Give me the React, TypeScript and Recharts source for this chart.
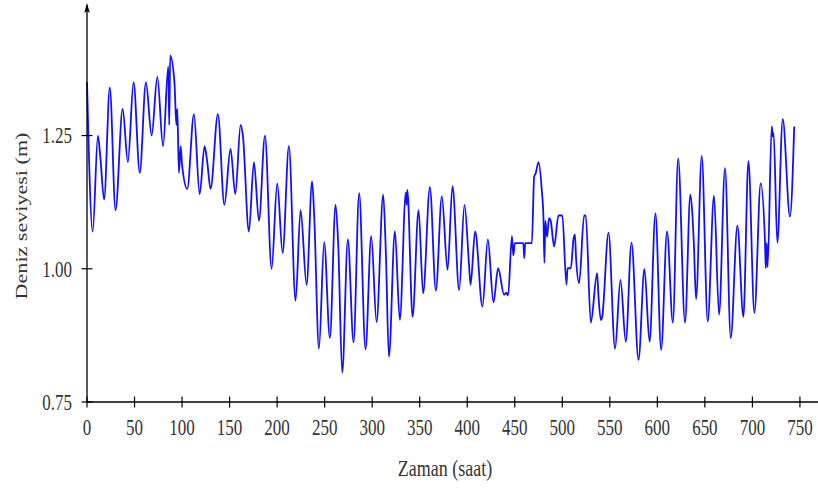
import React from "react";
import { LineChart, Line, XAxis, YAxis } from "recharts";

// turning points of the hourly sea-level record
const HOURS = [
  0, 6, 11.5, 14, 18, 24, 30, 37.5, 43, 49, 55.5, 62, 68, 74, 80, 85.5, 86.5, 87.5,
  92, 94, 95, 96.7, 98.5, 100, 105.5, 112.5, 118.5, 123.7, 126.5, 130, 137.7, 144.5,
  151, 156, 161.6, 164, 170.3, 175.6, 180.9, 187.2, 194.2, 200.1, 205.8, 212.4, 219.4,
  224.7, 231, 236.8, 239, 244, 249.5, 255.5, 261.5, 264.3, 268.5, 274.4, 280.4, 286.3,
  293, 299, 304.6, 311.6, 314.4, 317.6, 323.9, 329.1, 335.4, 336.2, 337, 342.5, 348.8,
  353.6, 360.7, 367, 373.3, 379.3, 384.5, 391.5, 397.1, 401.8, 403.5, 408.3, 416, 421.7,
  427.6, 432.5, 438.8, 441, 443, 447, 448.5, 450, 459, 460, 461, 468, 470.4, 472, 475,
  478.4, 480.2, 481.2, 482.2, 484, 486, 487.9, 491.4, 496, 500, 504.4, 505.5, 509, 511.8,
  513.3, 514.5, 517.7, 523, 524.7, 530, 536.6, 538, 540.5, 542, 548.6, 555.5, 561.2,
  566.8, 572.8, 580.2, 586.4, 591.8, 598, 604, 610.2, 616.3, 621.9, 629.1, 634.7, 637,
  638.4, 640.7, 646.7, 653, 659.6, 664.9, 671.2, 677.2, 684.2, 690.5, 695.8, 702.1, 708.7,
  713.3, 714, 715, 716, 720.3, 721.5, 722.3, 726.2, 731.9, 739.5, 744,
];

const LEVELS = [
  1.35, 1.07, 1.25, 1.21, 1.13, 1.34, 1.11, 1.3, 1.2, 1.35, 1.18, 1.35, 1.25, 1.36, 1.23, 1.38, 1.27, 1.4,
  1.35, 1.27, 1.3, 1.18, 1.23, 1.195, 1.15, 1.29, 1.14, 1.23, 1.2, 1.15, 1.29, 1.12,
  1.225, 1.14, 1.27, 1.25, 1.07, 1.2, 1.09, 1.25, 1.0, 1.16, 1.03, 1.23, 0.94,
  1.11, 0.97, 1.164, 1.1, 0.85, 1.05, 0.87, 1.12, 1.045, 0.805, 1.055, 0.862, 1.142,
  0.849, 1.061, 0.9, 1.139, 1.03, 0.835, 1.07, 0.904, 1.143, 1.12, 1.148, 0.91, 1.11,
  0.954, 1.153, 0.959, 1.136, 0.998, 1.155, 0.96, 1.12, 1.01, 0.97, 1.07, 0.929, 1.055,
  0.937, 1.001, 0.951, 0.955, 0.95, 1.061, 1.025, 1.048, 1.048, 1.02, 1.048, 1.048, 1.173, 1.179, 1.2,
  1.148, 1.095, 1.011, 1.09, 1.06, 1.095, 1.089, 1.042, 1.1, 1.1, 0.97, 1.001, 1.001, 1.056,
  1.064, 1.02, 0.973, 1.1, 1.1, 0.899, 0.992, 0.951, 0.904, 0.91, 1.068, 0.85, 0.979,
  0.863, 1.049, 0.829, 1.0, 0.863, 1.104, 0.848, 1.07, 0.899, 1.207, 0.899, 1.139, 1.098,
  1.048, 0.943, 1.212, 0.901, 1.137, 0.914, 1.189, 0.87, 1.081, 0.91, 1.202, 0.917, 1.16,
  1.048, 1.001, 1.048, 1.003, 1.267, 1.248, 1.255, 1.049, 1.281, 1.098, 1.267,
];

const X_TICKS = [0, 50, 100, 150, 200, 250, 300, 350, 400, 450, 500, 550, 600, 650, 700, 750];
const Y_TICKS = [0.75, 1.0, 1.25];

const data = HOURS.map((h, i) => ({ saat: h, seviye: LEVELS[i] }));

const FONT = "Liberation Serif, DejaVu Serif, serif";
const STRETCH = 1.3;
const textStyle = { fontFamily: FONT, fill: "#333" };

function XTick(props: any) {
  const { x, y, payload } = props;
  return (
    <g>
      <line x1={x} x2={x} y1={y - 5.5} y2={y + 5.5} stroke="#000" strokeWidth={1.2} />
      <text
        transform={`translate(${x},${y + 25}) scale(1,${STRETCH})`}
        textAnchor="middle"
        dominantBaseline="central"
        fontSize={17}
        style={textStyle}
      >
        {payload.value}
      </text>
    </g>
  );
}

function YTick(props: any) {
  const { x, y, payload } = props;
  return (
    <g>
      <line x1={x - 5.5} x2={x + 5.5} y1={y} y2={y} stroke="#000" strokeWidth={1.2} />
      <text
        transform={`translate(${x - 15},${y}) scale(1,${STRETCH})`}
        textAnchor="end"
        dominantBaseline="central"
        fontSize={17}
        style={textStyle}
      >
        {payload.value.toFixed(2)}
      </text>
    </g>
  );
}

export default function App() {
  return (
    <div style={{ position: "absolute", left: 0, top: 0, width: 818, height: 498, background: "#fff" }}>
      <LineChart width={818} height={498} data={data} margin={{ top: 5, right: 0, left: 0, bottom: 0 }}>
        <XAxis
          dataKey="saat"
          type="number"
          domain={[0, 769]}
          ticks={X_TICKS}
          interval={0}
          height={96}
          tickSize={0}
          tickMargin={0}
          tickLine={false}
          tick={<XTick />}
          axisLine={{ stroke: "#000", strokeWidth: 1.3 }}
        />
        <YAxis
          type="number"
          domain={[0.75, 1.495]}
          ticks={Y_TICKS}
          width={87}
          tickSize={0}
          tickMargin={0}
          tickLine={false}
          tick={<YTick />}
          axisLine={{ stroke: "#000", strokeWidth: 1.3 }}
        />
        <Line
          type="monotone"
          dataKey="seviye"
          stroke="#1010ff"
          strokeWidth={1.8}
          dot={false}
          isAnimationActive={false}
        />
      </LineChart>
      <svg
        width={818}
        height={498}
        style={{ position: "absolute", left: 0, top: 0, pointerEvents: "none" }}
      >
        <path d="M87,3 L84.2,13 L87,11 L89.8,13 Z" fill="#000" />
        <text
          transform={`translate(445,468) scale(1,${STRETCH})`}
          textAnchor="middle"
          dominantBaseline="central"
          fontSize={18}
          style={textStyle}
        >
          Zaman (saat)
        </text>
        <text
          transform={`translate(21,216) rotate(-90) scale(${STRETCH},1)`}
          textAnchor="middle"
          dominantBaseline="central"
          fontSize={17}
          style={textStyle}
        >
          Deniz seviyesi (m)
        </text>
      </svg>
    </div>
  );
}
